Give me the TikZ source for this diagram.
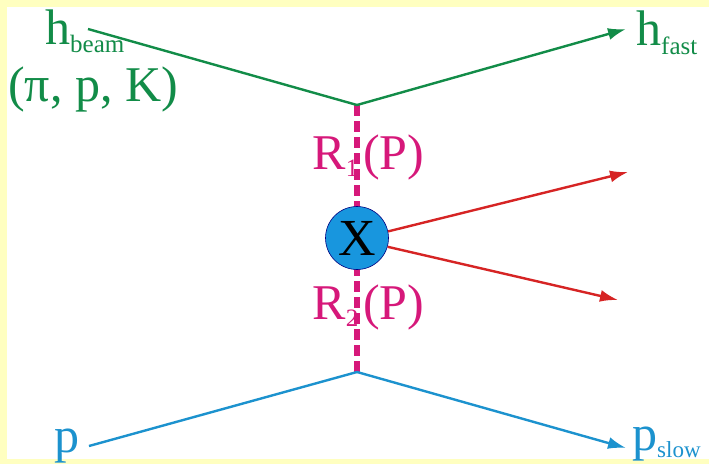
\documentclass[tikz,border=0pt]{standalone}
\usepackage{fontspec}
\setmainfont{Liberation Serif}
\usetikzlibrary{calc, positioning}
\usetikzlibrary{arrows.meta}

\definecolor{bgyellow}{RGB}{255,255,192}
\definecolor{hgreen}{RGB}{18,140,72}
\definecolor{rmagenta}{RGB}{214,24,122}
\definecolor{pblue}{RGB}{28,146,206}
\definecolor{xblue}{RGB}{24,150,222}
\definecolor{xred}{RGB}{214,36,36}

\newcommand{\subtxt}[1]{\textsubscript{\fontsize{25}{25}\selectfont #1}}

\begin{document}
\begin{tikzpicture}[x=1pt,y=-1pt,
    lbl/.style={inner sep=0pt,font=\fontsize{50}{54}\selectfont},
    track/.style={line width=2.4pt},
    tip/.style={-{Latex[length=18pt,width=12pt]}}]
\useasboundingbox (0,0) rectangle (709,464);

% Frame
\fill[bgyellow] (0,0) rectangle (709,464);
\fill[white] (7,7) rectangle (709,459);

% Vertices and free ends
\coordinate (topvtx) at (357,105);
\coordinate (botvtx) at (357,372);
\coordinate (beamin) at (88,29);
\coordinate (fastout) at (626,29);
\coordinate (pin) at (89,446);
\coordinate (slowout) at (626,448);
\coordinate (redup) at (628,172);
\coordinate (reddown) at (618,300);

% Pomeron exchange line
\draw[rmagenta,line width=6.5pt,dash pattern=on 11pt off 5pt] (topvtx) -- (botvtx);

% Central system
\node[circle,fill=xblue,draw=blue!50!black,line width=0.6pt,minimum size=63pt,inner sep=0pt,
    font=\fontsize{52}{52}\selectfont] (Xsys) at (357,238) {X};
\draw[xred,track,tip] (Xsys.12) -- (redup);
\draw[xred,track,tip] (Xsys.-16) -- (reddown);

% Beam hadron
\draw[hgreen,track] (beamin) -- (topvtx);
\draw[hgreen,track,tip] (topvtx) -- (fastout);

% Target proton
\draw[pblue,track] (pin) -- (botvtx);
\draw[pblue,track,tip] (botvtx) -- (slowout);

% Labels
\node[lbl,text=hgreen,anchor=base west] (hbeam) at (45,44) {h\subtxt{beam}};
\node[lbl,text=hgreen,anchor=base west] (hlist) at (8,101) {(π, p, K)};
\node[lbl,text=hgreen,anchor=base west] (hfast) at (636,45) {h\subtxt{fast}};
\node[lbl,text=pblue,anchor=base west] (pbeam) at (54,452) {p};
\node[lbl,text=pblue,anchor=base west] (pslow) at (632,450) {p\textsubscript{\fontsize{23}{23}\selectfont slow}};
\node[lbl,text=rmagenta,anchor=base east] (Rone) at (359,169) {R\subtxt{1}};
\node[lbl,text=rmagenta,anchor=base west] (Pone) at (363,169) {(P)};
\node[lbl,text=rmagenta,anchor=base east] (Rtwo) at (359,319) {R\subtxt{2}};
\node[lbl,text=rmagenta,anchor=base west] (Ptwo) at (363,319) {(P)};
\end{tikzpicture}
\end{document}
